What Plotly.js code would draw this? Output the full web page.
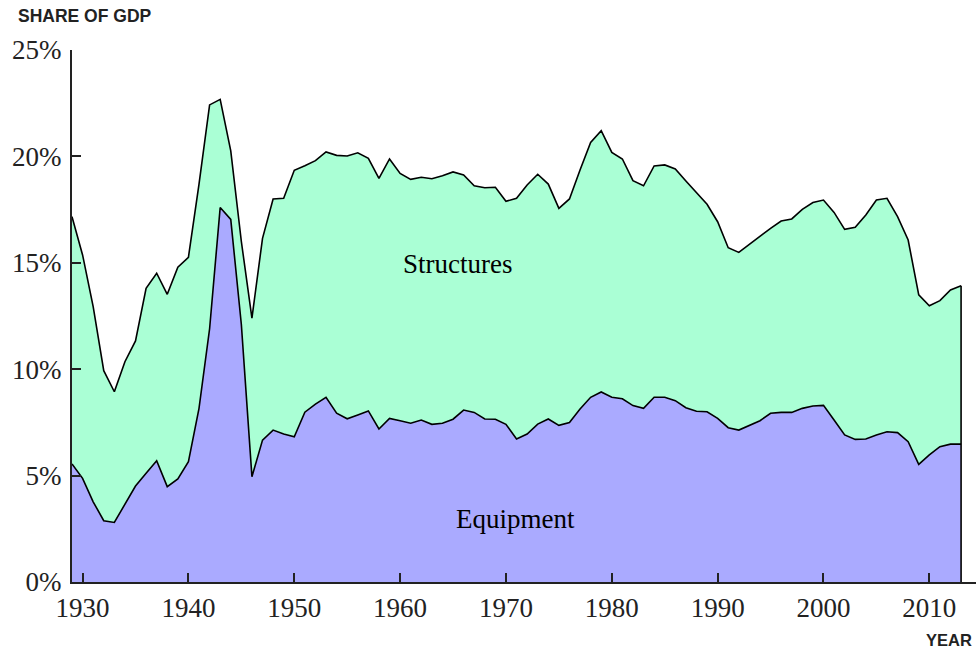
<!DOCTYPE html>
<html>
<head>
<meta charset="utf-8">
<script src="https://cdn.plot.ly/plotly-3.0.1.min.js"></script>
<style>html,body{margin:0;padding:0;background:#fff;overflow:hidden}#chart{width:976px;height:653px}</style>
</head>
<body>
<div id="chart"></div>
<script>
const years = [];
for (let y = 1929; y <= 2013; y++) years.push(y);

const equipment = [
  5.55, 4.87, 3.77, 2.88, 2.80, 3.65, 4.51, 5.11, 5.70, 4.48,
  4.84, 5.65, 8.16, 11.9, 17.6, 17.04, 12.1, 4.95, 6.67, 7.14,
  6.95, 6.82, 7.98, 8.36, 8.68, 7.93, 7.67, 7.85, 8.04, 7.19,
  7.69, 7.58, 7.46, 7.61, 7.41, 7.46, 7.65, 8.08, 7.97, 7.66,
  7.65, 7.41, 6.72, 6.95, 7.42, 7.66, 7.36, 7.49, 8.13, 8.68,
  8.93, 8.68, 8.61, 8.29, 8.16, 8.68, 8.68, 8.52, 8.19, 8.02,
  8.00, 7.69, 7.25, 7.14, 7.35, 7.58, 7.93, 7.97, 7.97, 8.16,
  8.27, 8.30, 7.61, 6.91, 6.70, 6.72, 6.91, 7.06, 7.02, 6.59,
  5.53, 5.97, 6.36, 6.48, 6.48
];

const structures = [
  11.62, 10.50, 9.17, 7.05, 6.14, 6.70, 6.82, 8.69, 8.81, 9.04,
  9.95, 9.61, 10.54, 10.52, 5.08, 3.22, 3.90, 7.45, 9.48, 10.86,
  11.08, 12.53, 11.58, 11.44, 11.53, 12.12, 12.35, 12.32, 11.87, 11.78,
  12.19, 11.62, 11.46, 11.41, 11.54, 11.63, 11.62, 11.05, 10.65, 10.87,
  10.90, 10.48, 11.31, 11.71, 11.74, 11.04, 10.20, 10.51, 11.23, 11.98,
  12.28, 11.51, 11.27, 10.57, 10.46, 10.87, 10.92, 10.89, 10.65, 10.25,
  9.75, 9.24, 8.46, 8.35, 8.52, 8.67, 8.69, 8.99, 9.09, 9.35,
  9.56, 9.65, 9.76, 9.66, 9.97, 10.53, 11.04, 10.97, 10.15, 9.48,
  7.96, 7.01, 6.86, 7.24, 7.44
];

const xTickVals = [1930, 1940, 1950, 1960, 1970, 1980, 1990, 2000, 2010];
const xTickText = ['1930', '1940', '1950', '1960', '1970', '1980', '1990', '2000', '2010'];
const yTickVals = [0, 5, 10, 15, 20, 25];
const yTickText = ['0%', '5%', '10%', '15%', '20%', '25%'];

const lastIdx = years.length - 1;
const lastTotal = equipment[lastIdx] + structures[lastIdx];

const traces = [
  {
    x: years, y: equipment, type: 'scatter', mode: 'lines', name: 'Equipment',
    stackgroup: 'one', fillcolor: '#aaaaff',
    line: {color: '#000', width: 1.6}, hoverinfo: 'x+y'
  },
  {
    x: years, y: structures, type: 'scatter', mode: 'lines', name: 'Structures',
    stackgroup: 'one', fillcolor: '#aaffd5',
    line: {color: '#000', width: 1.6}, hoverinfo: 'x+y'
  },
  {
    x: [years[lastIdx], years[lastIdx]], y: [0, lastTotal], type: 'scatter', mode: 'lines',
    line: {color: '#000', width: 1.6}, hoverinfo: 'skip', showlegend: false
  }
];

const serif = 'Liberation Serif, Times New Roman, serif';
const sans = 'Liberation Sans, Arial, sans-serif';

const layout = {
  width: 976, height: 653,
  margin: {l: 72, r: 0, t: 50, b: 71, pad: 0},
  paper_bgcolor: '#fff', plot_bgcolor: '#fff',
  showlegend: false,
  xaxis: {
    range: [1929, 2014.41], tickvals: xTickVals, ticktext: xTickText,
    ticks: 'inside', ticklen: 9, tickwidth: 2, tickcolor: '#222',
    showline: true, linecolor: '#222', linewidth: 2,
    showgrid: false, zeroline: false, ticklabelstandoff: 1,
    tickfont: {family: serif, size: 27, color: '#222'}
  },
  yaxis: {
    range: [0, 25], tickvals: yTickVals, ticktext: yTickText,
    ticks: 'inside', ticklen: 9, tickwidth: 2, tickcolor: '#222',
    showline: true, linecolor: '#222', linewidth: 2,
    showgrid: false, zeroline: false, ticklabelstandoff: 3,
    tickfont: {family: serif, size: 27, color: '#222'}
  },
  annotations: [
    {text: 'Structures', x: 1965.4, y: 14.94, xref: 'x', yref: 'y', showarrow: false,
     xanchor: 'center', yanchor: 'middle', font: {family: serif, size: 27, color: '#000'}},
    {text: 'Equipment', x: 1970.9, y: 2.96, xref: 'x', yref: 'y', showarrow: false,
     xanchor: 'center', yanchor: 'middle', font: {family: serif, size: 27, color: '#000'}},
    {text: '<b>SHARE OF GDP</b>', x: -0.0619, y: 1.064, xref: 'paper', yref: 'paper', showarrow: false,
     xanchor: 'left', yanchor: 'middle', font: {family: sans, size: 17.5, color: '#222'}},
    {text: '<b>YEAR</b>', x: 0.998, y: -0.109, xref: 'paper', yref: 'paper', showarrow: false,
     xanchor: 'right', yanchor: 'middle', font: {family: sans, size: 16.5, color: '#222'}}
  ]
};

Plotly.newPlot('chart', traces, layout, {displayModeBar: false, staticPlot: true});
</script>
</body>
</html>
